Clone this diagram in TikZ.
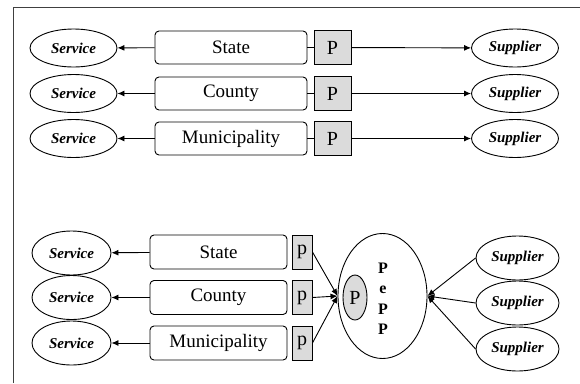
\documentclass[tikz,border=0pt]{standalone}
\usepackage{fontspec}
\setmainfont{Liberation Serif}
\usetikzlibrary{arrows.meta,shapes.geometric}

\begin{document}
\begin{tikzpicture}[x=1pt,y=-1pt,line width=0.9pt,
  actor/.style={draw,ellipse,inner sep=0pt,font=\fontsize{15}{15}\selectfont\bfseries\itshape},
  level/.style={draw,rounded corners=4pt,minimum height=33pt,inner sep=0pt,font=\fontsize{19}{19}\selectfont},
  pbox/.style={draw,fill=black!14,minimum height=34pt,inner sep=0pt,font=\fontsize{20}{20}\selectfont},
  arr/.style={-{Latex[length=7pt,width=6pt]}}]
\useasboundingbox (0,0) rectangle (580,383);
\draw[black!75] (13,383)--(13,7)--(580,7);

% separate procurement per level
\begin{scope}[actor/.append style={minimum width=87pt,minimum height=38pt},
  level/.append style={minimum width=152pt},pbox/.append style={minimum width=37pt}]
\node[actor] (sv1) at (73.5,48) {Service};
\node[actor] (sv2) at (73.5,93.5) {Service};
\node[actor] (sv3) at (73.5,138.5) {Service};
\node[level] (lv1) at (231,47.5) {State};
\node[level] (lv2) at (231,93.5) {County};
\node[level] (lv3) at (231,138.5) {Municipality};
\node[pbox] (p1) at (332.5,47.5) {P};
\node[pbox] (p2) at (332.5,93.5) {P};
\node[pbox] (p3) at (332.5,138.5) {P};
\node[actor] (su1) at (515,48) {Supplier};
\node[actor] (su2) at (515,93.5) {Supplier};
\node[actor] (su3) at (515,138.5) {Supplier};
\draw (lv1)--(p1);
\draw (lv2)--(p2);
\draw (lv3)--(p3);
\draw[arr] (lv1)--(sv1);
\draw[arr] (lv2)--(sv2);
\draw[arr] (lv3)--(sv3);
\draw[arr] (p1)--(su1);
\draw[arr] (p2)--(su2);
\draw[arr] (p3)--(su3);
\end{scope}

% common platform
\begin{scope}[actor/.append style={minimum height=44pt},
  level/.append style={minimum width=137pt,minimum height=34pt},pbox/.append style={minimum width=20pt}]
\node[actor,minimum width=79pt] (sv4) at (71.5,253) {Service};
\node[actor,minimum width=79pt] (sv5) at (71.5,297.5) {Service};
\node[actor,minimum width=79pt] (sv6) at (71.5,343) {Service};
\node[level] (lv4) at (218.5,252) {State};
\node[level] (lv5) at (218.5,297.5) {County};
\node[level] (lv6) at (218.5,343) {Municipality};
\node[pbox] (p4) at (302,252) {p};
\node[pbox] (p5) at (302,297.5) {p};
\node[pbox] (p6) at (302,343) {p};
\node[draw,ellipse,minimum width=89pt,minimum height=125pt] (pepp) at (382.5,296) {};
\node[draw,ellipse,fill=black!14,inner sep=0pt,minimum width=24pt,minimum height=45pt,
  font=\fontsize{20}{20}\selectfont] (pin) at (355,297.5) {P};
\node[align=center,font=\fontsize{16}{20.5}\selectfont\bfseries] (name) at (383,299) {P\\e\\P\\P};
\node[actor,minimum width=83pt] (su4) at (517.5,258) {Supplier};
\node[actor,minimum width=83pt] (su5) at (517.5,303) {Supplier};
\node[actor,minimum width=83pt] (su6) at (517.5,349) {Supplier};
\draw[arr] (lv4)--(sv4);
\draw[arr] (lv5)--(sv5);
\draw[arr] (lv6)--(sv6);
\draw[arr] (p4.east)--(pepp.west);
\draw[arr] (p5.east)--(pepp.west);
\draw[arr] (p6.east)--(pepp.west);
\draw[arr] (su4.west)--(pepp.east);
\draw[arr] (su5.west)--(pepp.east);
\draw[arr] (su6.west)--(pepp.east);
\end{scope}
\end{tikzpicture}
\end{document}
